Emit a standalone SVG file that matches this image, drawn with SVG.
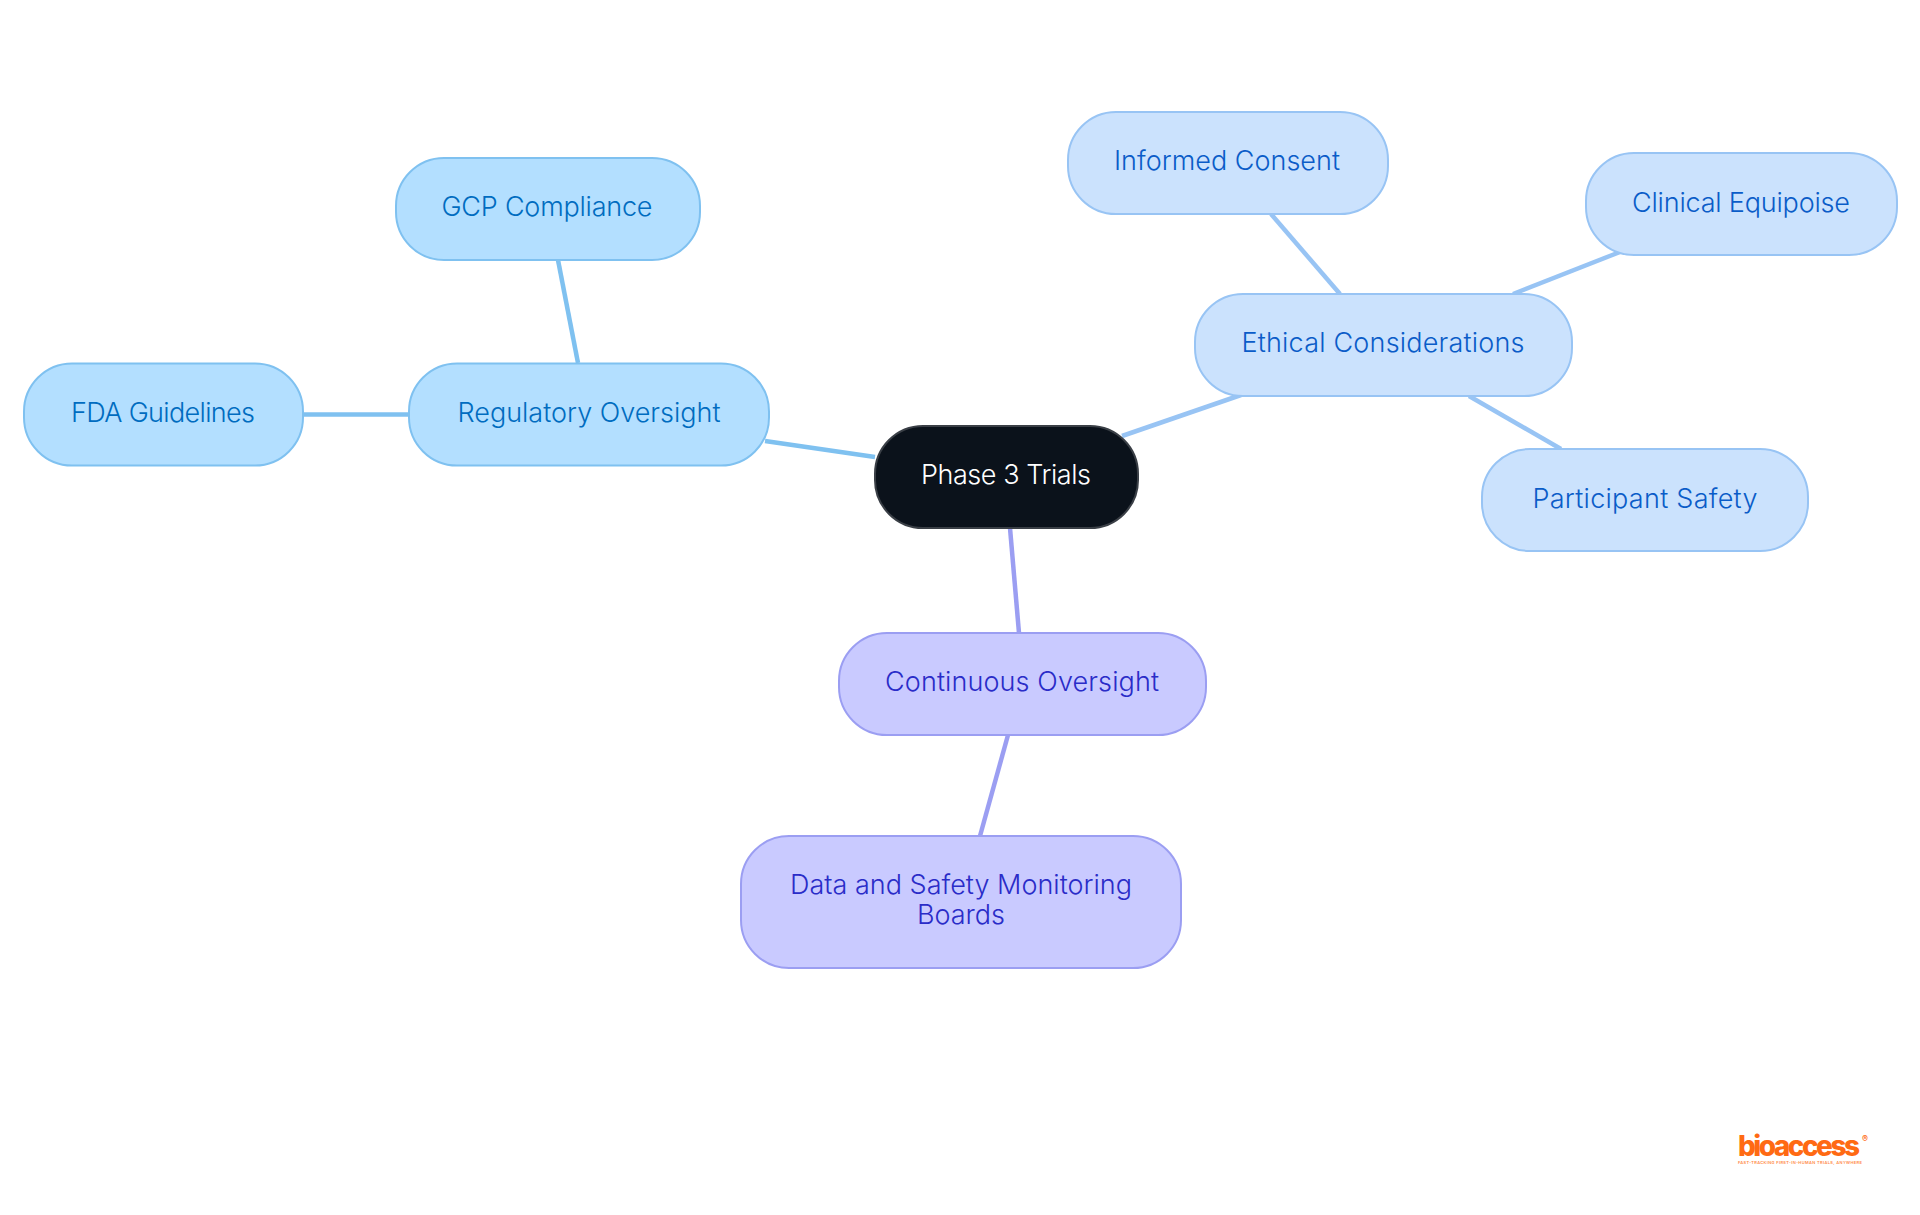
<svg xmlns="http://www.w3.org/2000/svg" width="1920" height="1215" viewBox="0 0 1920 1215">
<style>
text{font-family:"Inter","Noto Sans",sans-serif;font-size:27px;text-anchor:middle;font-weight:350}
.n{stroke-width:2}
.blue rect{fill:#b3dfff;stroke:#7fc1f0}.blue text{fill:#006cc0}
.sky rect{fill:#cbe2fd;stroke:#98c4f4}.sky text{fill:#0a5cc8}
.vio rect{fill:#c9caff;stroke:#9b9ef2}.vio text{fill:#2a2cc8}
.c line{stroke-width:4.5;fill:none}
</style>
<rect width="1920" height="1215" fill="#fff"/>
<g id="connectors" class="c">
<line x1="765" y1="441" x2="875" y2="457" stroke="#7fc1f0"/>
<line x1="303" y1="414.500" x2="409" y2="414.500" stroke="#7fc1f0"/>
<line x1="558" y1="260" x2="578" y2="363" stroke="#7fc1f0"/>
<line x1="1122" y1="436" x2="1241" y2="395" stroke="#98c4f4"/>
<line x1="1271" y1="214" x2="1340" y2="294" stroke="#98c4f4"/>
<line x1="1513" y1="294" x2="1620" y2="252" stroke="#98c4f4"/>
<line x1="1469" y1="396" x2="1561" y2="449" stroke="#98c4f4"/>
<line x1="1010" y1="528" x2="1019" y2="633" stroke="#9b9ef2"/>
<line x1="1008" y1="735" x2="980" y2="836" stroke="#9b9ef2"/>
</g>
<g id="phase3"><rect x="875" y="426" width="263" height="102" rx="48" fill="#0b121b" stroke="#3a3f46" stroke-width="2"/><text x="1006" y="484" fill="#fff" textLength="170">Phase 3 Trials</text></g>
<g id="regulatory" class="blue"><rect class="n" x="409" y="363.500" width="360" height="102" rx="48"/><text x="589" y="422" textLength="263">Regulatory Oversight</text></g>
<g id="gcp" class="blue"><rect class="n" x="396" y="158" width="304" height="102" rx="48"/><text x="547" y="216" textLength="211">GCP Compliance</text></g>
<g id="fda" class="blue"><rect class="n" x="24" y="363.500" width="279" height="102" rx="48"/><text x="163" y="422" textLength="184">FDA Guidelines</text></g>
<g id="ethical" class="sky"><rect class="n" x="1195" y="294" width="377" height="102" rx="48"/><text x="1383" y="352" textLength="283">Ethical Considerations</text></g>
<g id="informed" class="sky"><rect class="n" x="1068" y="112" width="320" height="102" rx="48"/><text x="1227" y="170" textLength="226">Informed Consent</text></g>
<g id="clinical" class="sky"><rect class="n" x="1586" y="153" width="311" height="102" rx="48"/><text x="1741" y="212" textLength="218">Clinical Equipoise</text></g>
<g id="participant" class="sky"><rect class="n" x="1482" y="449" width="326" height="102" rx="48"/><text x="1645" y="508" textLength="225">Participant Safety</text></g>
<g id="continuous" class="vio"><rect class="n" x="839" y="633" width="367" height="102" rx="48"/><text x="1022" y="691" textLength="274">Continuous Oversight</text></g>
<g id="dsmb" class="vio"><rect class="n" x="741" y="836" width="440" height="132" rx="48"/><text x="961" y="894" textLength="342">Data and Safety Monitoring</text><text x="961" y="924" textLength="88">Boards</text></g>
<g id="logo"><text x="1799" y="1156" textLength="122" style="font-size:28px;font-weight:800;fill:#ff6a13">bioaccess</text><text x="1865" y="1142" style="font-size:9px;fill:#ff6a13;font-weight:600">®</text><text x="1800" y="1163.500" textLength="124" style="font-size:4px;fill:#ff8a45;font-weight:600">FAST-TRACKING FIRST-IN-HUMAN TRIALS, ANYWHERE</text></g>
</svg>
